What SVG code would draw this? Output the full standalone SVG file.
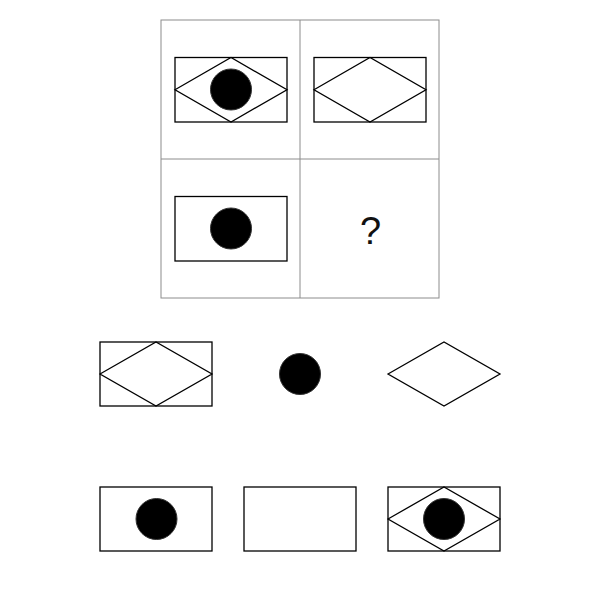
<svg xmlns="http://www.w3.org/2000/svg" width="600" height="600" viewBox="0 0 600 600">
<style>
.grid{fill:none;stroke:#8c8c8c;stroke-width:1}
.shp{fill:none;stroke:#000;stroke-width:1.3}
.dot{fill:#000;stroke:#333;stroke-width:1}
.q{font-family:"Liberation Sans",Arial,sans-serif;font-size:38px;fill:#111}
</style>
<rect width="600" height="600" fill="#fff"/>
<g id="grid">
<rect class="grid" x="161" y="20" width="278" height="278"/>
<line class="grid" x1="300" y1="20" x2="300" y2="298"/>
<line class="grid" x1="161" y1="159" x2="439" y2="159"/>
</g>
<g id="cell1">
<rect class="shp" x="175" y="57.5" width="112" height="64.5"/>
<polygon class="shp" points="175,89.75 231,57.5 287,89.75 231,122"/>
<circle class="dot" cx="231" cy="89.5" r="20.5"/>
</g>
<g id="cell2">
<rect class="shp" x="314" y="57.5" width="112" height="64.5"/>
<polygon class="shp" points="314,89.75 370,57.5 426,89.75 370,122"/>
</g>
<g id="cell3">
<rect class="shp" x="175" y="196.5" width="112" height="64.5"/>
<circle class="dot" cx="231" cy="228.5" r="20.5"/>
</g>
<g id="cell4">
<text class="q" x="370.5" y="243.5" text-anchor="middle">?</text>
</g>
<g id="optA">
<rect class="shp" x="100" y="342" width="112" height="64"/>
<polygon class="shp" points="100,374 156,342 212,374 156,406"/>
</g>
<g id="optB">
<circle class="dot" cx="300" cy="374" r="20.5"/>
</g>
<g id="optC">
<polygon class="shp" points="388,374 444,342 500,374 444,406"/>
</g>
<g id="optD">
<rect class="shp" x="100" y="487" width="112" height="64"/>
<circle class="dot" cx="156.5" cy="519" r="20.5"/>
</g>
<g id="optE">
<rect class="shp" x="244" y="487" width="112" height="64"/>
</g>
<g id="optF">
<rect class="shp" x="388" y="487" width="112" height="64"/>
<polygon class="shp" points="388,519 444,487 500,519 444,551"/>
<circle class="dot" cx="444" cy="519" r="20.5"/>
</g>
</svg>
